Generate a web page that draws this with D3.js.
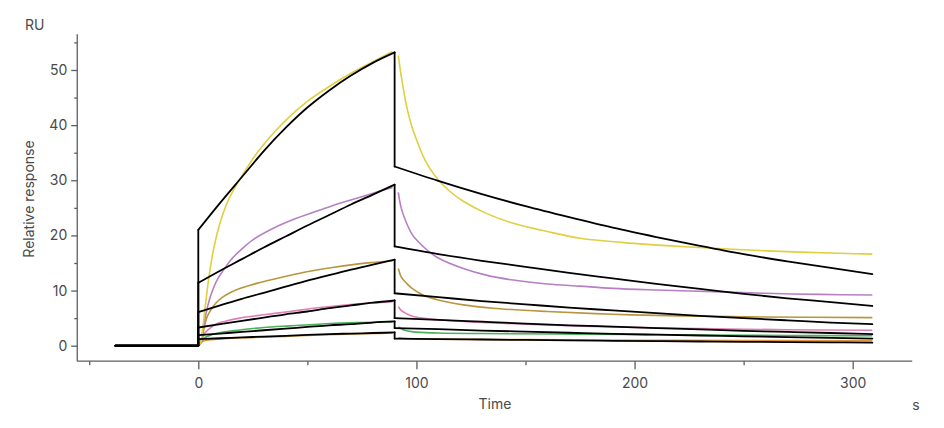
<!DOCTYPE html>
<html>
<head>
<meta charset="utf-8">
<script src="https://cdn.jsdelivr.net/npm/d3@7/dist/d3.min.js"></script>
<style>
  html, body { margin: 0; padding: 0; background: #fff; }
  svg { display: block; }
  text { font-family: Inter, "Noto Sans", sans-serif; fill: #4a4a4a; }
</style>
</head>
<body>
<svg id="chart" width="944" height="428"></svg>
<script>
// ---------------- data ----------------
const yMajorTicks = [0, 10, 20, 30, 40, 50];
const yMinorTicks = [5, 15, 25, 35, 45, 55];
const xMajorTicks = [0, 100, 200, 300];
const xMinorTicks = [-50, 50, 150, 250];
const baselineTimes = [-38, 0];

// measured sensorgrams: association phase [time, RU]
const yellowAssoc = [[0,0],[1,0.5],[2,3],[3,6.5],[4,9.8],[5,12.8],[7,17.5],[10,22.3],[14,26.6],[20,30.8],[27,35],[35,38.8],[42,41.6],[50,44.3],[60,47],[70,49.4],[80,51.5],[89,53.3]];
const purpleAssoc = [[0,0],[1,0.5],[2,2.5],[3,4.8],[3.8,6.3],[5,8.2],[7,10.5],[9,12.2],[11.5,13.7],[15,15.6],[19,17.2],[25,19.2],[34.4,21.3],[45,23.1],[57.3,24.8],[66,25.95],[75.7,27.1],[83,28],[89,28.7]];
const goldAssoc   = [[0,0],[1,0.5],[2,2],[3,3.8],[3.8,5],[5,6],[7,7.2],[9,8.1],[11.5,8.9],[15,9.7],[20,10.5],[26.8,11.3],[35,12.1],[49.7,13.4],[60,14.1],[72.6,14.8],[80,15.1],[89,15.4]];
const pinkAssoc   = [[0,0],[1,0.5],[2,1.5],[3,2.3],[5.4,3.2],[8,3.9],[12,4.4],[19,5],[30,5.6],[42,6.2],[53,6.8],[65,7.3],[77,7.7],[89,8]];
const greenAssoc  = [[0,0],[1,0.5],[2.3,1.3],[5,1.8],[8,2.2],[11.5,2.5],[20,2.9],[30,3.3],[42,3.6],[55,3.9],[72.6,4.2],[89,4.3]];
const orangeAssoc = [[0,0],[1,0.4],[2,0.8],[4,1],[10,1.2],[20,1.4],[40,1.7],[60,2],[80,2.2],[89,2.3]];

// measured sensorgrams: dissociation phase [time, RU]
const yellowDiss = [[91.7,52.6],[93,49],[95.5,43.4],[98,39.6],[100.1,37.3],[104,33.6],[108.5,30.8],[115,28.1],[121.5,26.2],[132,24],[144.4,22.2],[160,20.7],[175,19.5],[195,18.7],[221,18],[245,17.5],[267,17.1],[290,16.8],[309,16.6]];
const purpleDiss = [[91.7,27.8],[93,25],[95.5,22.2],[98,20.2],[100,19.2],[104.7,17.4],[110,15.9],[121.5,14],[132,12.8],[144.4,11.9],[160,11.2],[175,10.8],[190,10.4],[210,10.1],[236,9.8],[260,9.5],[285,9.3],[309,9.2]];
const goldDiss   = [[91.7,14],[93,12.5],[95.5,11.3],[98,10.4],[103,9.2],[110,8.3],[121.5,7.4],[135,6.8],[160,6.2],[190,5.7],[221,5.4],[260,5.2],[309,5.1]];
const pinkDiss   = [[91.7,7.1],[93,6.4],[95.5,5.8],[98.6,5.3],[105,4.9],[121.5,4.4],[150,3.9],[190,3.4],[230,3.1],[270,2.9],[309,2.8]];
const greenDiss  = [[91.7,3.4],[94,2.9],[98.6,2.5],[110,2.3],[130,2.2],[175,2.1],[230,1.95],[270,1.85],[309,1.8]];
const orangeDiss = [[91.7,1.5],[95,1.3],[110,1.2],[150,1.1],[200,1],[250,0.95],[309,0.9]];

// fitted curves (black)
const fitAssocTimes = [0, 10, 20, 30, 40, 50, 60, 70, 80, 90];
const fit1Assoc = [21, 25.9, 30.6, 35.3, 39.5, 43.2, 46.3, 49.0, 51.3, 53.2];
const fit2Assoc = [11.4, 13.6, 15.7, 17.8, 19.8, 21.8, 23.7, 25.6, 27.4, 29.2];
const fit3Assoc = [6.1, 7.3, 8.5, 9.6, 10.7, 11.8, 12.8, 13.8, 14.7, 15.6];
const fit4Assoc = [3.3, 3.9, 4.5, 5.1, 5.7, 6.2, 6.8, 7.3, 7.8, 8.2];
const fit5Assoc = [1.9, 2.2, 2.5, 2.8, 3.1, 3.4, 3.7, 3.9, 4.2, 4.4];
const fit6Assoc = [1.2, 1.35, 1.5, 1.65, 1.8, 1.95, 2.1, 2.2, 2.3, 2.4];

const fitDissTimes = [90, 110, 130, 150, 170, 190, 210, 230, 250, 270, 290, 309];
const fit1Diss = [32.5, 29.9, 27.5, 25.3, 23.3, 21.4, 19.7, 18.1, 16.6, 15.3, 14.1, 13.0];
const fit2Diss = [18.0, 16.6, 15.4, 14.3, 13.2, 12.2, 11.2, 10.3, 9.4, 8.6, 7.9, 7.2];
const fit3Diss = [9.5, 8.8, 8.1, 7.5, 6.9, 6.4, 5.9, 5.4, 5.0, 4.6, 4.2, 3.9];
const fit4Diss = [5.0, 4.7, 4.35, 4.0, 3.7, 3.45, 3.2, 2.95, 2.7, 2.5, 2.3, 2.1];
const fit5Diss = [3.2, 3.0, 2.75, 2.55, 2.35, 2.15, 2.0, 1.85, 1.7, 1.55, 1.42, 1.3];
const fit6Diss = [1.3, 1.2, 1.12, 1.04, 0.96, 0.89, 0.82, 0.76, 0.7, 0.65, 0.6, 0.55];

// ---------------- chart ----------------
const svg = d3.select("#chart");
const pxPerSec = (852.7 - 198.3) / 300;
const x = d3.scaleLinear().domain([-55.5, 327.3]).range([198.3 - 55.5 * pxPerSec, 198.3 + 327.3 * pxPerSec]);
const pxPerRU = (345.7 - 70) / 50;
const y = d3.scaleLinear().domain([-2.8, 56.5]).range([345.7 + 2.8 * pxPerRU, 345.7 - 56.5 * pxPerRU]);

const axisColor = "#5a5e63";
const x0 = x.range()[0], x1 = x.range()[1];
const yB = y.range()[0], yT = y.range()[1];

// axis lines
svg.append("line").attr("x1", x0).attr("x2", x0).attr("y1", yT).attr("y2", yB)
  .attr("stroke", axisColor).attr("stroke-width", 1.3);
svg.append("line").attr("x1", x0).attr("x2", x1).attr("y1", yB).attr("y2", yB)
  .attr("stroke", axisColor).attr("stroke-width", 1.3);

// y axis ticks
const yAxis = svg.append("g").attr("transform", `translate(${x0},0)`)
  .call(d3.axisLeft(y).tickValues(yMajorTicks).tickSize(6).tickSizeOuter(0).tickPadding(4));
yAxis.select(".domain").remove();
const yAxisMinor = svg.append("g").attr("transform", `translate(${x0},0)`)
  .call(d3.axisLeft(y).tickValues(yMinorTicks).tickSize(3).tickSizeOuter(0).tickFormat(""));
yAxisMinor.select(".domain").remove();

// x axis ticks
const xAxis = svg.append("g").attr("transform", `translate(0,${yB})`)
  .call(d3.axisBottom(x).tickValues(xMajorTicks).tickSize(8).tickSizeOuter(0).tickPadding(9));
xAxis.select(".domain").remove();
const xAxisMinor = svg.append("g").attr("transform", `translate(0,${yB})`)
  .call(d3.axisBottom(x).tickValues(xMinorTicks).tickSize(4).tickSizeOuter(0).tickFormat(""));
xAxisMinor.select(".domain").remove();

svg.selectAll(".tick line").attr("stroke", axisColor).attr("stroke-width", 1.3);
svg.selectAll(".tick text").attr("font-family", "Inter, 'Noto Sans', sans-serif")
  .attr("font-size", 14).attr("fill", "#4a4a4a");

// axis titles
svg.append("text").attr("x", 25).attr("y", 30).attr("font-size", 14).text("RU");
svg.append("text").attr("transform", "translate(34,199) rotate(-90)")
  .attr("text-anchor", "middle").attr("font-size", 14).text("Relative response");
svg.append("text").attr("x", 495).attr("y", 409).attr("text-anchor", "middle")
  .attr("font-size", 14).text("Time");
svg.append("text").attr("x", 916).attr("y", 410).attr("text-anchor", "middle")
  .attr("font-size", 14).text("s");

// lines
const smoothGen = d3.line().x(d => x(d[0])).y(d => y(d[1])).curve(d3.curveCatmullRom.alpha(0.5));
const fitGen = d3.line().x(d => x(d[0])).y(d => y(d[1])).curve(d3.curveMonotoneX);
const linear = d3.line().x(d => x(d[0])).y(d => y(d[1]));
const plot = svg.append("g");
const basePts = baselineTimes.map(t => [t, 0]);

const measured = [
  { color: "#e0cf3f", assoc: yellowAssoc, diss: yellowDiss },
  { color: "#b77fc4", assoc: purpleAssoc, diss: purpleDiss },
  { color: "#b8963c", assoc: goldAssoc,   diss: goldDiss },
  { color: "#e07fb5", assoc: pinkAssoc,   diss: pinkDiss },
  { color: "#4caf5a", assoc: greenAssoc,  diss: greenDiss },
  { color: "#de943c", assoc: orangeAssoc, diss: orangeDiss }
];
measured.slice().reverse().forEach(s => {
  plot.append("path").attr("d", linear(basePts))
    .attr("fill", "none").attr("stroke", s.color).attr("stroke-width", 1.6);
  [s.assoc, s.diss].forEach(seg => {
    plot.append("path").attr("d", smoothGen(seg))
      .attr("fill", "none").attr("stroke", s.color).attr("stroke-width", 1.6);
  });
});

const fits = [
  [fit1Assoc, fit1Diss], [fit2Assoc, fit2Diss], [fit3Assoc, fit3Diss],
  [fit4Assoc, fit4Diss], [fit5Assoc, fit5Diss], [fit6Assoc, fit6Diss]
];
fits.forEach(([a, dsc]) => {
  const assocPts = fitAssocTimes.map((t, i) => [t, a[i]]);
  const dissPts = fitDissTimes.map((t, i) => [t, dsc[i]]);
  const g = plot.append("g").attr("fill", "none").attr("stroke", "#000")
    .attr("stroke-width", 1.8).attr("stroke-linejoin", "round").attr("stroke-linecap", "round");
  g.append("path").attr("d", linear(basePts));
  g.append("path").attr("d", linear([basePts[basePts.length - 1], assocPts[0]]));
  g.append("path").attr("d", fitGen(assocPts));
  g.append("path").attr("d", linear([assocPts[assocPts.length - 1], dissPts[0]]));
  g.append("path").attr("d", fitGen(dissPts));
});
</script>
</body>
</html>
